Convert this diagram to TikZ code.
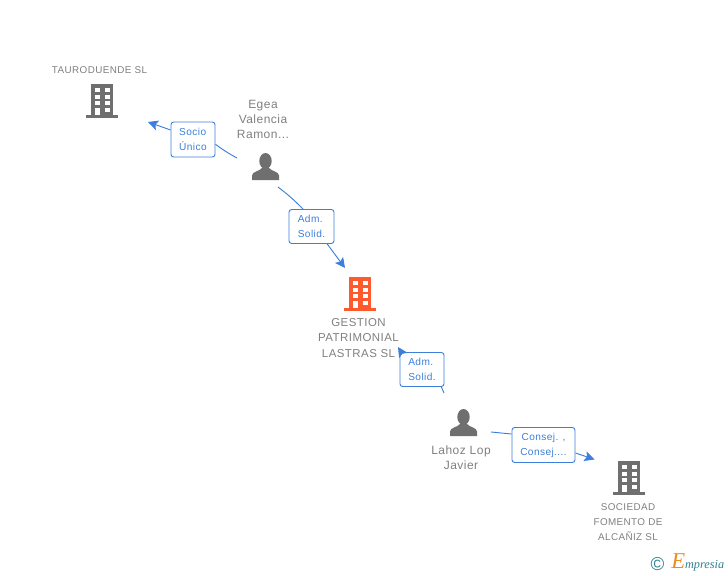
\documentclass[tikz,border=0pt]{standalone}
\usepackage{fontspec}
\setmainfont[LetterSpace=4]{Liberation Sans}
\newfontfamily\logofont{Liberation Serif}
\usetikzlibrary{arrows.meta}
\definecolor{linkblue}{HTML}{3C7FDC}
\definecolor{icongray}{HTML}{6F6F6F}
\definecolor{textgray}{HTML}{808080}
\definecolor{mainorange}{HTML}{FF5A2D}
\definecolor{logoteal}{HTML}{2F7F93}
\definecolor{logoorange}{HTML}{F08A1D}
\tikzset{
    firm/.style={text=textgray, font=\fontsize{9}{11.3}\selectfont, align=center, inner sep=0pt},
    firmsmall/.style={firm, font=\fontsize{7.4}{11.3}\selectfont},
    rel/.style={draw=linkblue, fill=white, rounded corners=2pt, line width=0.7pt, text=linkblue,
        font=\fontsize{7.6}{11.3}\selectfont, inner sep=0pt},
    link/.style={draw=linkblue, line width=0.7pt},
    tip/.style={link, -{Stealth[length=7.5pt, width=7.5pt, inset=1.5pt]}},
    building/.pic={
        \fill[pic actions] (-11,-17) rectangle (11,14);
        \fill[pic actions] (-16,14) rectangle (16,16.5);
        \foreach \row/\h in {-13.5/4.5, -6.5/4, 0/4} {
            \fill[white] (-7,\row) rectangle +(5,\h);
            \fill[white] (2.5,\row) rectangle +(5,\h);
        }
        \fill[white] (-7,7) rectangle +(5,7);
        \fill[white] (2.5,7) rectangle +(5,4);
    },
    person/.pic={
        \fill[pic actions] (0,-5.5) ellipse (6.2 and 8);
        \fill[pic actions] (-13.5,13.5) -- (-13.5,9) .. controls (-13.5,5) and (-6,5) .. (-3,1)
            -- (3,1) .. controls (6,5) and (13.5,5) .. (13.5,9) -- (13.5,13.5) -- cycle;
    }
}
\begin{document}
\begin{tikzpicture}[x=0.75pt, y=-0.75pt]
    \useasboundingbox (0,0) rectangle (728,575);

    % icons
    \pic[fill=icongray] at (102,101) {building};
    \pic[fill=mainorange] at (360,294) {building};
    \pic[fill=icongray] at (629,478) {building};
    \pic[fill=icongray] at (265.5,166.5) {person};
    \pic[fill=icongray] at (463.5,422.5) {person};

    % names
    \node[firmsmall] (tauro) at (99.5,70) {TAURODUENDE SL};
    \node[firm] (egea) at (263,119.5) {Egea\\Valencia\\Ramon...};
    \node[firm, font=\fontsize{8.6}{11.3}\selectfont] (gestion) at (358.5,338) {GESTION\\PATRIMONIAL\\LASTRAS SL};
    \node[firm] (lahoz) at (461,458) {Lahoz Lop\\Javier};
    \node[firmsmall] (sociedad) at (628,522.5) {SOCIEDAD\\FOMENTO DE\\ALCAÑIZ SL};

    % free ends
    \coordinate (egeaA) at (237,158);
    \coordinate (egeaB) at (278,187);
    \coordinate (lahozA) at (444,393);
    \coordinate (lahozB) at (491,432);
    \coordinate (tauroin) at (148,122);
    \coordinate (gestionin) at (345,268);
    \coordinate (gestionin2) at (398,347);
    \coordinate (sociedadin) at (594.5,459.5);

    % relations
    \foreach \sym/\pos/\wid/\hei/\al/\txt in {
        socio/{193,139.5}/44/35/left/{Socio\\Único},
        adm1/{311.5,226.5}/45/34/left/{Adm.\\Solid.},
        adm2/{422,369.5}/44/34/left/{Adm.\\Solid.},
        consej/{543.5,445}/63/35/center/{Consej. ,\\Consej....}} {
        \node[rel, align=\al, minimum width=\wid*0.75pt, minimum height=\hei*0.75pt] (\sym) at (\pos) {\txt};
    }

    \draw[link] (egeaA) to[bend left=4] (socio.-12);
    \draw[tip] (socio.157) -- (tauroin);
    \draw[link] (egeaB) to[bend left=4] (adm1.116);
    \draw[tip] (adm1.-48) -- (gestionin);
    \draw[link] (lahozA) -- (adm2.-42);
    \draw[tip] (adm2.140) -- (gestionin2);
    \draw[link] (lahozB) -- (consej.161);
    \draw[tip] (consej.-14) -- (sociedadin);

    % logo
    \node[inner sep=0pt, text=logoteal, font=\fontsize{14}{14}\selectfont] (copy) at (657.5,564) {©};
    \node[inner sep=0pt, anchor=base west, font=\logofont\itshape\fontsize{9.2}{11}\selectfont, text=logoteal] (logo) at (671,568)
        {\textcolor{logoorange}{\fontsize{17}{17}\selectfont E}mpresia};
\end{tikzpicture}
\end{document}
